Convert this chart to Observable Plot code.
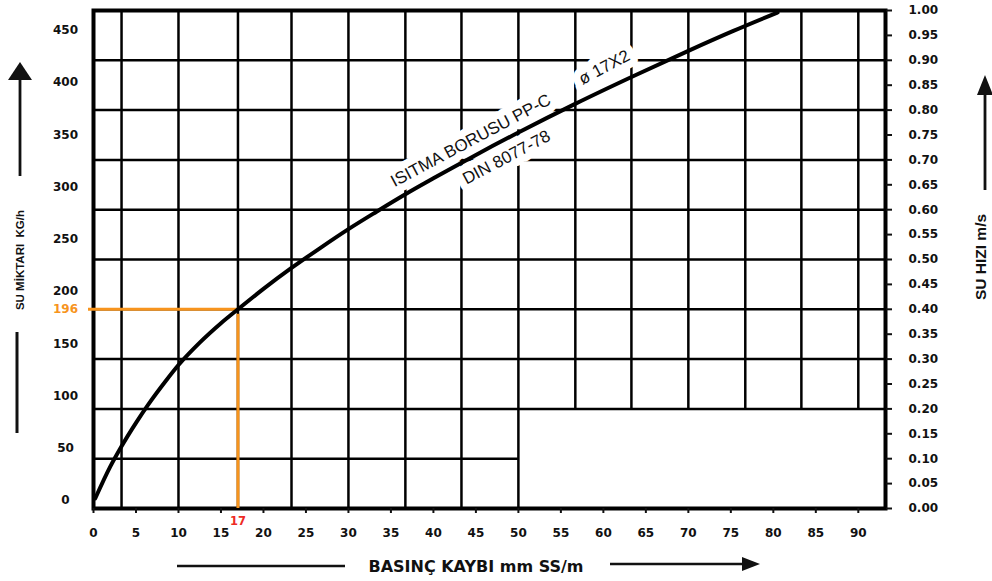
<!DOCTYPE html>
<html>
<head>
<meta charset="utf-8">
<script src="https://cdn.jsdelivr.net/npm/d3@7"></script>
<script src="https://cdn.jsdelivr.net/npm/@observablehq/plot@0.6"></script>
<style>
  html, body { margin: 0; padding: 0; background: #fff; }
  #chart svg { display: block; }
</style>
</head>
<body>
<div id="chart"></div>
<script>
// Pressure loss along the pipe, mm water column per metre
const pressureLoss = [0.2, 2, 3.2, 5, 6.5, 8.5, 10, 12.5, 15, 17, 20, 23.3, 26.5, 30, 33.3, 36.7, 40, 45, 50, 56.5, 63.5, 70, 75.3, 80.5];
// Water speed in m/s at each of those losses
const waterSpeed = [0.02, 0.085, 0.122, 0.172, 0.21, 0.256, 0.288, 0.333, 0.372, 0.40, 0.441, 0.483, 0.521, 0.561, 0.596, 0.631, 0.663, 0.71, 0.755, 0.811, 0.868, 0.919, 0.959, 0.996];

// Axis ticks
const lossTicks = [0, 5, 10, 15, 20, 25, 30, 35, 40, 45, 50, 55, 60, 65, 70, 75, 80, 85, 90];
const speedTicks = [0, 0.05, 0.10, 0.15, 0.20, 0.25, 0.30, 0.35, 0.40, 0.45, 0.50, 0.55, 0.60, 0.65, 0.70, 0.75, 0.80, 0.85, 0.90, 0.95, 1.00];
const flowTicks = [0, 50, 100, 150, 200, 250, 300, 350, 400, 450];

// Chart paper grid lines
const gridLoss = [3.3, 10, 17, 23.3, 30, 36.7, 43.3, 50, 56.7, 63.3, 70, 76.7, 83.3, 90];
const gridSpeed = [0.1, 0.2, 0.3, 0.4, 0.5, 0.6, 0.7, 0.8, 0.9];

// Worked example
const example = {loss: 17, flow: 196, speed: 0.40};

// Curve annotations
const curveNotes = [
  {text: "ISITMA BORUSU PP-C", loss: 44.4, speed: 0.739},
  {text: "DIN 8077-78", loss: 48.6, speed: 0.705},
  {text: "ø 17X2", loss: 60.1, speed: 0.886}
];

const curve = pressureLoss.map((loss, i) => ({loss, speed: waterSpeed[i]}));

// The flow (kg/h) scale printed on the left, expressed on the speed axis
const flowToSpeed = d3.scaleLinear().domain([0, 450]).range([0.016, 0.96]);

const INK = "#111";
const ORANGE = "#f7941d";
const RED = "#ee2a24";
const xMax = 93.2;

const chart = Plot.plot({
  width: 992,
  height: 581,
  marginTop: 10,
  marginBottom: 73,
  marginLeft: 93,
  marginRight: 107,
  x: {domain: [0, xMax], axis: null},
  y: {domain: [0, 1], axis: null},
  style: {
    fontFamily: "DejaVu Sans",
    fontSize: "12px",
    fontWeight: "bold",
    color: INK,
    background: "#fff",
    overflow: "visible"
  },
  marks: [
    // vertical grid: right of 50 the lowest band is left blank
    Plot.ruleX(gridLoss, {x: d => d, y1: d => (d > 50 ? 0.2 : 0), y2: 1, stroke: "#000", strokeWidth: 2.5}),
    // horizontal grid: the 0.1 line stops at 50
    Plot.ruleY(gridSpeed, {y: d => d, x1: 0, x2: d => (d < 0.15 ? 50 : xMax), stroke: "#000", strokeWidth: 2.5}),
    Plot.frame({stroke: "#000", strokeWidth: 4}),

    // pipe designation written along the curve
    Plot.text(curveNotes, {
      x: "loss", y: "speed", text: "text", rotate: -28,
      fontFamily: "Liberation Sans", fontWeight: "normal", fontSize: 17,
      fill: INK, stroke: "#fff", strokeWidth: 15, paintOrder: "stroke"
    }),

    // worked example
    Plot.ruleY([example], {y: "speed", x1: 0, x2: "loss", stroke: ORANGE, strokeWidth: 3, insetLeft: -5}),
    Plot.ruleX([example], {x: "loss", y1: 0, y2: "speed", stroke: ORANGE, strokeWidth: 3, insetBottom: -5}),

    // the curve
    Plot.line(curve, {x: "loss", y: "speed", curve: "monotone-x", stroke: "#000", strokeWidth: 4}),

    // pressure loss axis
    Plot.axisX(lossTicks, {
      anchor: "bottom", tickSize: 5, tickPadding: 15, strokeWidth: 2,
      tickFormat: d => String(d), label: null, fill: INK
    }),
    // speed axis
    Plot.axisY(speedTicks, {
      anchor: "right", tickSize: 6, tickPadding: 17, strokeWidth: 2,
      tickFormat: d3.format(".2f"), label: null, fill: INK
    }),
    // flow axis
    Plot.text(flowTicks, {
      y: d => flowToSpeed(d), text: d => String(d), frameAnchor: "left",
      dx: -28, textAnchor: "middle", lineAnchor: "middle", fill: INK
    }),

    // example values on the axes
    Plot.text([example], {
      y: "speed", text: d => String(d.flow), frameAnchor: "left",
      dx: -28, textAnchor: "middle", lineAnchor: "middle", fill: ORANGE
    }),
    Plot.text([example], {
      x: "loss", text: d => String(d.loss), frameAnchor: "bottom",
      dy: 13, lineAnchor: "middle", fontSize: 11.5, fill: RED
    })
  ]
});

document.getElementById("chart").appendChild(chart);

// Axis titles with their arrows
const svg = d3.select(chart);
const deco = svg.append("g").attr("fill", INK).attr("stroke", "none");

function arrowUp(x, yBottom, yTip, headW, headH) {
  deco.append("line").attr("x1", x).attr("x2", x).attr("y1", yBottom).attr("y2", yTip + headH - 1)
    .attr("stroke", INK).attr("stroke-width", 2.8);
  deco.append("path").attr("d", `M${x},${yTip}L${x + headW / 2},${yTip + headH}L${x - headW / 2},${yTip + headH}Z`);
}

// left: SU MİKTARI KG/h
arrowUp(20, 176, 62, 24, 18);
deco.append("line").attr("x1", 17).attr("x2", 17).attr("y1", 332).attr("y2", 433)
  .attr("stroke", INK).attr("stroke-width", 3);
deco.append("text")
  .attr("transform", "translate(21,260) rotate(-90)")
  .attr("text-anchor", "middle").attr("dominant-baseline", "middle")
  .attr("font-family", "Liberation Sans").attr("font-weight", "bold").attr("font-size", 11.5)
  .text("SU MİKTARI  KG/h");

// right: SU HIZI m/s
arrowUp(985, 190, 75, 16, 20);
deco.append("text")
  .attr("transform", "translate(982,257) rotate(-90)")
  .attr("text-anchor", "middle").attr("dominant-baseline", "middle")
  .attr("font-family", "Liberation Sans").attr("font-weight", "bold").attr("font-size", 15.5)
  .text("SU HIZI m/s");

// bottom: BASINÇ KAYBI mm SS/m
deco.append("line").attr("x1", 177).attr("x2", 345).attr("y1", 566).attr("y2", 566)
  .attr("stroke", INK).attr("stroke-width", 2.5);
deco.append("line").attr("x1", 610).attr("x2", 745).attr("y1", 564).attr("y2", 564)
  .attr("stroke", INK).attr("stroke-width", 2.5);
deco.append("path").attr("d", "M760,564L742,557L742,571Z");
deco.append("text")
  .attr("x", 476).attr("y", 572).attr("text-anchor", "middle")
  .attr("font-family", "DejaVu Sans").attr("font-weight", "bold").attr("font-size", 16)
  .text("BASINÇ KAYBI mm SS/m");
</script>
</body>
</html>
